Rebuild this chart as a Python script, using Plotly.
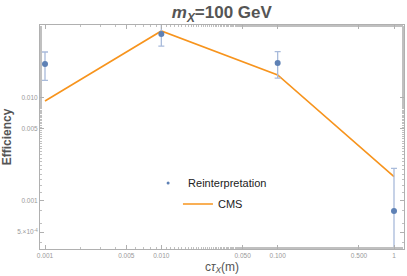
import plotly.graph_objects as go

ctau = [0.001, 0.01, 0.1, 1.0]
reint_eff = [0.0212, 0.0414, 0.0217, 0.00080]
reint_err = [0.0065, 0.0098, 0.0062, 0.00127]
cms_eff = [0.0093, 0.0443, 0.0166, 0.00172]

x_tickvals = [0.001, 0.005, 0.01, 0.05, 0.1, 0.5, 1]
x_ticktext = ["0.001", "0.005", "0.010", "0.050", "0.100", "0.500", "1"]
y_tickvals = [0.0005, 0.001, 0.005, 0.01]
y_ticktext = ["5.×10<sup>-4</sup>", "0.001", "0.005", "0.010"]

blue = "#5e81b5"
orange = "#f7941d"

fig = go.Figure()
fig.add_trace(go.Scatter(
    x=ctau, y=cms_eff, mode="lines", name="CMS",
    line=dict(color=orange, width=1.6), showlegend=True, legend="legend2"))
fig.add_trace(go.Scatter(
    x=ctau, y=reint_eff, mode="markers", name="Reinterpretation",
    marker=dict(color=blue, size=6),
    error_y=dict(type="data", array=reint_err, color="#a9bbdb", thickness=1.3, width=3),
    showlegend=False))
fig.add_trace(go.Scatter(
    x=[None], y=[None], mode="markers", name="Reinterpretation",
    marker=dict(color=blue, size=3), showlegend=True, legend="legend"))

axis_common = dict(
    showline=True, linecolor="#b0b0b0", linewidth=1, mirror="allticks",
    ticks="inside", ticklen=4, tickcolor="#b0b0b0", showgrid=False, zeroline=False,
    tickfont=dict(family="Liberation Sans, Arial", size=6.5, color="#999999"),
    minor=dict(ticks="inside", ticklen=2, tickcolor="#c0c0c0", showgrid=False),
    automargin=False,
)

fig.update_layout(
    width=407, height=276,
    margin=dict(l=40, r=3, t=25, b=27, autoexpand=False),
    paper_bgcolor="white", plot_bgcolor="white",
    title=dict(text="<b><i>m</i><sub><i>X</i></sub>=100 GeV</b>", x=0.545, xanchor="center",
               y=0.955, yanchor="middle",
               font=dict(family="Liberation Sans, Arial", size=17, color="#555555")),
    xaxis=dict(type="log", range=[-3.043, 0.086], tickvals=x_tickvals, ticktext=x_ticktext,
               tickangle=0,
               title=dict(text="c<i>τ</i><sub><i>X</i></sub>(m)", standoff=4,
                          font=dict(family="Liberation Sans, Arial", size=12, color="#555555")),
               **axis_common),
    yaxis=dict(type="log", range=[-3.465, -1.296], tickvals=y_tickvals, ticktext=y_ticktext,
               title=dict(text="<b>Efficiency</b>", standoff=3,
                          font=dict(family="Liberation Sans, Arial", size=12, color="#555555")),
               **axis_common),
    legend=dict(x=0.297, xanchor="left", y=0.295, yanchor="middle", bgcolor="rgba(0,0,0,0)",
                font=dict(family="Liberation Sans, Arial", size=11, color="#222222")),
    legend2=dict(x=0.379, xanchor="left", y=0.201, yanchor="middle", bgcolor="rgba(0,0,0,0)",
                 font=dict(family="Liberation Sans, Arial", size=11, color="#222222")),
)

fig.write_html("out.html", config={"displayModeBar": False},
               post_script="document.body.style.margin='0';document.body.style.padding='0';")
